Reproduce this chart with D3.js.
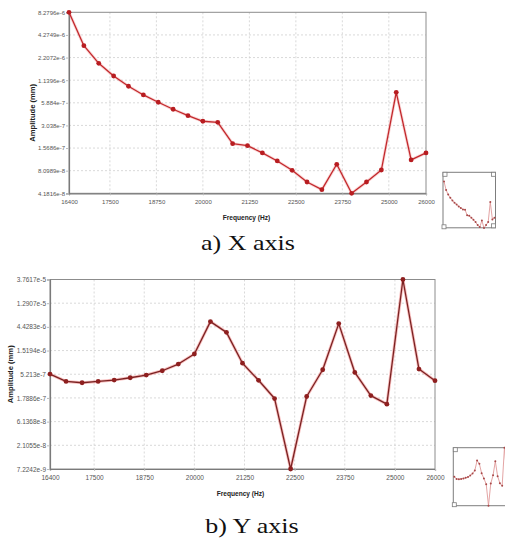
<!DOCTYPE html>
<html>
<head>
<meta charset="utf-8">
<script src="https://cdn.jsdelivr.net/npm/d3@7"></script>
<style>
  html, body { margin: 0; padding: 0; background: #fff; }
  svg { display: block; }
</style>
</head>
<body>
<svg id="fig" width="505" height="544"></svg>
<script>
// Frequency sweep (Hz)
const frequency = [16400, 16800, 17200, 17600, 18000, 18400, 18800, 19200, 19600, 20000,
  20400, 20800, 21200, 21600, 22000, 22400, 22800, 23200, 23600, 24000,
  24400, 24800, 25200, 25600, 26000];

// Amplitude response (mm), X direction
const amplitudeX = [8.2796e-6, 3.12e-6, 1.865e-6, 1.288e-6, 9.54e-7, 7.40e-7, 5.98e-7, 4.87e-7, 4.04e-7, 3.43e-7,
  3.33e-7, 1.78e-7, 1.68e-7, 1.36e-7, 1.076e-7, 8.19e-8, 5.82e-8, 4.65e-8, 9.76e-8, 4.1816e-8,
  5.82e-8, 8.26e-8, 8.00e-7, 1.108e-7, 1.36e-7];

// Amplitude response (mm), Y direction
const amplitudeY = [5.26e-7, 3.77e-7, 3.55e-7, 3.77e-7, 4.01e-7, 4.45e-7, 5.03e-7, 6.11e-7, 8.27e-7, 1.30e-6,
  5.62e-6, 3.46e-6, 8.58e-7, 3.97e-7, 1.74e-7, 7.2242e-9, 1.91e-7, 6.39e-7, 5.13e-6, 5.66e-7,
  1.99e-7, 1.35e-7, 3.7617e-5, 6.60e-7, 3.90e-7];

// Axis tick labels
const freqTicks = [16400, 17500, 18750, 20000, 21250, 22500, 23750, 25000, 26000];
const ampTicksX = ["8.2796e-6", "4.2749e-6", "2.2072e-6", "1.1396e-6", "5.884e-7", "3.038e-7", "1.5686e-7", "8.0989e-8", "4.1816e-8"];
const ampTicksY = ["3.7617e-5", "1.2907e-5", "4.4283e-6", "1.5194e-6", "5.213e-7", "1.7886e-7", "6.1368e-8", "2.1055e-8", "7.2242e-9"];

const captions = ["a) X axis", "b) Y axis"];

const svg = d3.select("#fig");

function drawPanel(cfg) {
  const g = svg.append("g");
  const tickVals = cfg.ticks.map(Number);
  const x = d3.scaleLinear().domain([d3.min(freqTicks), d3.max(freqTicks)]).range([cfg.x0, cfg.x1]);
  const y = d3.scaleLog().domain([d3.min(tickVals), d3.max(tickVals)]).range([cfg.y1, cfg.y0]);

  // grid
  g.append("g").selectAll("line.v").data(freqTicks.slice(1, -1)).join("line")
    .attr("x1", d => x(d)).attr("x2", d => x(d))
    .attr("y1", cfg.y0).attr("y2", cfg.y1)
    .attr("stroke", "#cfcfcf").attr("stroke-width", 0.8).attr("stroke-dasharray", "2,2");
  g.append("g").selectAll("line.h").data(tickVals.slice(1, -1)).join("line")
    .attr("x1", cfg.x0).attr("x2", cfg.x1)
    .attr("y1", d => y(d)).attr("y2", d => y(d))
    .attr("stroke", "#cfcfcf").attr("stroke-width", 0.8).attr("stroke-dasharray", "2,2");

  // frame
  g.append("rect")
    .attr("x", cfg.x0).attr("y", cfg.y0)
    .attr("width", cfg.x1 - cfg.x0).attr("height", cfg.y1 - cfg.y0)
    .attr("fill", "none").attr("stroke", "#8c8c8c").attr("stroke-width", 1);

  // axes
  const xAxis = d3.axisBottom(x).tickValues(freqTicks).tickSize(2).tickFormat(d3.format("d"));
  const gx = g.append("g").attr("transform", `translate(0,${cfg.y1})`).call(xAxis);
  const yAxis = d3.axisLeft(y).tickValues(tickVals).tickSize(3)
    .tickFormat((d, i) => cfg.ticks[i]);
  const gy = g.append("g").attr("transform", `translate(${cfg.x0},0)`).call(yAxis);
  [gx, gy].forEach(a => {
    a.select(".domain").attr("stroke", "#7a7a7a").attr("stroke-width", 1.2);
    a.selectAll(".tick line").attr("stroke", "#bbb");
    a.selectAll(".tick text").attr("fill", "#555")
      .attr("font-family", "'Liberation Sans', Arial, sans-serif")
      .attr("font-size", cfg.tickFont);
  });
  gx.selectAll(".tick text").attr("dy", "0.95em");
  gy.selectAll(".tick text").attr("x", -4);

  // axis titles
  g.append("text")
    .attr("x", (cfg.x0 + cfg.x1) / 2 + cfg.xtOffset).attr("y", cfg.xtY)
    .attr("text-anchor", "middle")
    .attr("font-family", "'Liberation Sans', Arial, sans-serif")
    .attr("font-weight", "bold").attr("font-size", 6.6).attr("fill", "#222")
    .text("Frequency (Hz)");
  g.append("text")
    .attr("transform", `translate(${cfg.ytX},${(cfg.y0 + cfg.y1) / 2 + cfg.ytOffset}) rotate(-90)`)
    .attr("text-anchor", "middle")
    .attr("font-family", "'Liberation Sans', Arial, sans-serif")
    .attr("font-weight", "bold").attr("font-size", 7.6).attr("fill", "#222")
    .text("Amplitude (mm)");

  // series
  const pts = frequency.map((f, i) => [f, cfg.values[i]]);
  const line = d3.line().x(d => x(d[0])).y(d => y(d[1]));
  g.append("path").datum(pts).attr("d", line)
    .attr("fill", "none").attr("stroke", cfg.halo).attr("stroke-width", 3)
    .attr("stroke-linejoin", "round");
  g.append("path").datum(pts).attr("d", line)
    .attr("fill", "none").attr("stroke", cfg.lineColor).attr("stroke-width", 1.3)
    .attr("stroke-linejoin", "round");
  g.append("g").selectAll("circle").data(pts).join("circle")
    .attr("cx", d => x(d[0])).attr("cy", d => y(d[1])).attr("r", 2.4)
    .attr("fill", cfg.markColor);

  // overview thumbnail
  const tb = cfg.thumb;
  const tx = d3.scaleLinear().domain(x.domain()).range([tb.x0 + 1, tb.x1 - 1]);
  const ty = d3.scaleLog().domain(y.domain()).range([tb.cy1, tb.cy0]);
  const tg = g.append("g");
  tg.append("rect").attr("x", tb.x0).attr("y", tb.y0)
    .attr("width", tb.x1 - tb.x0).attr("height", tb.y1 - tb.y0)
    .attr("fill", "#fff").attr("stroke", "#7d7d7d").attr("stroke-width", 1);
  const tline = d3.line().x(d => tx(d[0])).y(d => ty(d[1]));
  tg.append("path").datum(pts).attr("d", tline)
    .attr("fill", "none").attr("stroke", "#e09a9a").attr("stroke-width", 0.9);
  tg.append("g").selectAll("circle").data(pts).join("circle")
    .attr("cx", d => tx(d[0])).attr("cy", d => ty(d[1])).attr("r", 1)
    .attr("fill", "#a84848");
  const hs = 4;
  const corners = [[tb.x0, tb.y0], [tb.x1 - hs, tb.y0], [tb.x1 - hs, tb.y1 - hs], [tb.x0 - 1, tb.y1 - hs + 1]];
  tg.selectAll("rect.h").data(corners).join("rect")
    .attr("x", d => d[0]).attr("y", d => d[1]).attr("width", hs).attr("height", hs)
    .attr("fill", "#fff").attr("stroke", "#7d7d7d").attr("stroke-width", 0.8);

  // caption
  svg.append("text")
    .attr("transform", `translate(${cfg.capX},${cfg.capY}) scale(1.3,1)`)
    .attr("text-anchor", "middle")
    .attr("font-family", "'Liberation Serif', 'Times New Roman', serif")
    .attr("font-size", 20).attr("fill", "#111")
    .text(cfg.caption);
}

drawPanel({
  values: amplitudeX, ticks: ampTicksX, caption: captions[0],
  x0: 69, x1: 426, y0: 12.3, y1: 193.3, tickFont: 6,
  xtY: 219.5, xtOffset: -1, ytX: 35, ytOffset: 10,
  lineColor: "#c2282c", halo: "rgba(235,90,90,0.25)", markColor: "#b81d21",
  thumb: { x0: 443, x1: 495.5, y0: 172.3, y1: 227.8, cy0: 181.5, cy1: 228 },
  capX: 248, capY: 250
});

drawPanel({
  values: amplitudeY, ticks: ampTicksY, caption: captions[1],
  x0: 50, x1: 435, y0: 279.5, y1: 469, tickFont: 6.5,
  xtY: 496, xtOffset: -2, ytX: 13, ytOffset: 0,
  lineColor: "#7a2222", halo: "rgba(240,110,110,0.45)", markColor: "#8e1f1f",
  thumb: { x0: 453.3, x1: 510, y0: 447.7, y1: 505.7, cy0: 447.7, cy1: 505.7 },
  capX: 252, capY: 533
});
</script>
</body>
</html>
